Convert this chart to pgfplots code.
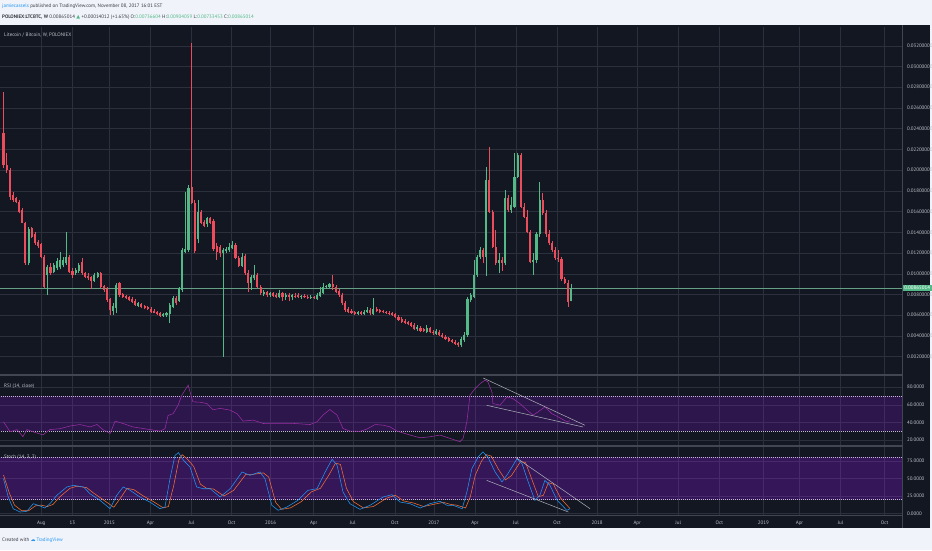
\documentclass[border=0pt]{standalone}
\usepackage{fontspec}
\setmainfont{PT Sans}
\newfontfamily\symfont{DejaVu Sans}
\usepackage{pgfplots}
\usepackage{pgfplotstable}
\pgfplotsset{compat=1.18}
\definecolor{bg}{RGB}{19,23,34}
\definecolor{hdr}{RGB}{240,243,250}
\definecolor{gridc}{RGB}{44,48,60}
\definecolor{sepc}{RGB}{66,70,82}
\definecolor{labc}{RGB}{190,193,200}
\definecolor{dashc}{RGB}{196,186,214}
\definecolor{tvgreen}{RGB}{83,185,135}
\definecolor{tvred}{RGB}{235,77,92}
\definecolor{tvblue}{RGB}{33,150,243}
\definecolor{tvorange}{RGB}{245,110,50}
\definecolor{rsic}{RGB}{155,45,165}
\definecolor{band}{RGB}{153,21,255}
\definecolor{hdrtext}{RGB}{55,58,66}
\definecolor{trendc}{RGB}{175,178,188}

\pgfplotstableread{
w o h l c
0 0.02355 0.02757 0.02017 0.02049
1 0.02049 0.02162 0.01969 0.02001
2 0.02001 0.02017 0.01712 0.01744
3 0.01760 0.01792 0.01695 0.01712
4 0.01728 0.01744 0.01679 0.01695
5 0.01695 0.01712 0.01583 0.01599
6 0.01615 0.01631 0.01486 0.01493
7 0.01493 0.01503 0.01084 0.01100
9 0.01438 0.01454 0.01342 0.01358
10 0.01384 0.01406 0.01277 0.01293
11 0.01309 0.01326 0.01245 0.01268
12 0.01284 0.01293 0.01149 0.01165
13 0.01165 0.01181 0.00859 0.00875
15 0.01068 0.01100 0.00988 0.01004
21 0.01165 0.01181 0.01010 0.01020
22 0.01030 0.01052 0.00956 0.00988
25 0.01117 0.01149 0.00988 0.01004
26 0.01004 0.01020 0.00956 0.00972
27 0.00978 0.01004 0.00939 0.00956
28 0.00965 0.00978 0.00850 0.00933
31 0.01004 0.01020 0.00859 0.00875
32 0.00882 0.00891 0.00827 0.00843
33 0.00850 0.00869 0.00731 0.00747
34 0.00753 0.00763 0.00602 0.00650
37 0.00908 0.00923 0.00779 0.00795
38 0.00805 0.00817 0.00770 0.00779
39 0.00786 0.00795 0.00753 0.00763
40 0.00773 0.00786 0.00737 0.00747
41 0.00759 0.00773 0.00721 0.00731
42 0.00740 0.00753 0.00689 0.00698
44 0.00708 0.00721 0.00666 0.00676
45 0.00689 0.00698 0.00657 0.00666
46 0.00676 0.00689 0.00650 0.00657
47 0.00663 0.00676 0.00624 0.00634
48 0.00644 0.00657 0.00618 0.00624
49 0.00631 0.00644 0.00602 0.00612
50 0.00618 0.00631 0.00586 0.00596
55 0.00763 0.00786 0.00698 0.00715
60 0.01840 0.03223 0.01673 0.01686
61 0.01686 0.01712 0.01203 0.01223
63 0.01599 0.01615 0.01480 0.01493
64 0.01503 0.01519 0.01448 0.01461
66 0.01535 0.01551 0.01480 0.01493
67 0.01512 0.01525 0.01223 0.01235
68 0.01268 0.01293 0.01133 0.01213
69 0.01261 0.01277 0.01165 0.01203
74 0.01277 0.01293 0.01139 0.01149
75 0.01155 0.01171 0.01062 0.01075
77 0.01171 0.01191 0.00988 0.01004
78 0.01010 0.01036 0.00827 0.00908
81 0.00988 0.01010 0.00859 0.00875
82 0.00875 0.00891 0.00795 0.00811
84 0.00824 0.00837 0.00779 0.00795
86 0.00811 0.00824 0.00773 0.00789
87 0.00795 0.00811 0.00763 0.00779
89 0.00811 0.00824 0.00740 0.00779
91 0.00795 0.00811 0.00740 0.00779
93 0.00789 0.00811 0.00770 0.00779
94 0.00792 0.00811 0.00763 0.00776
96 0.00789 0.00801 0.00763 0.00773
97 0.00779 0.00795 0.00759 0.00770
99 0.00779 0.00789 0.00753 0.00763
105 0.00898 0.00988 0.00843 0.00869
106 0.00869 0.00891 0.00811 0.00827
107 0.00834 0.00850 0.00779 0.00795
108 0.00795 0.00811 0.00698 0.00715
109 0.00721 0.00740 0.00634 0.00650
110 0.00657 0.00676 0.00618 0.00634
111 0.00641 0.00657 0.00612 0.00624
112 0.00631 0.00644 0.00602 0.00615
114 0.00628 0.00641 0.00599 0.00612
117 0.00650 0.00666 0.00599 0.00618
119 0.00657 0.00676 0.00634 0.00644
120 0.00647 0.00660 0.00624 0.00634
121 0.00641 0.00650 0.00618 0.00628
122 0.00634 0.00644 0.00612 0.00621
123 0.00624 0.00637 0.00602 0.00612
124 0.00618 0.00631 0.00592 0.00602
125 0.00608 0.00624 0.00570 0.00579
126 0.00586 0.00602 0.00547 0.00557
127 0.00567 0.00579 0.00528 0.00538
128 0.00547 0.00560 0.00515 0.00528
129 0.00535 0.00547 0.00505 0.00515
130 0.00522 0.00535 0.00483 0.00496
131 0.00505 0.00522 0.00457 0.00470
133 0.00480 0.00496 0.00438 0.00448
134 0.00464 0.00480 0.00441 0.00451
136 0.00473 0.00489 0.00425 0.00435
137 0.00441 0.00457 0.00412 0.00425
139 0.00441 0.00457 0.00399 0.00409
140 0.00409 0.00425 0.00377 0.00387
141 0.00393 0.00409 0.00361 0.00370
142 0.00377 0.00393 0.00345 0.00354
143 0.00361 0.00374 0.00329 0.00342
144 0.00345 0.00361 0.00316 0.00325
145 0.00329 0.00342 0.00297 0.00316
153 0.01229 0.01245 0.01100 0.01165
155 0.01905 0.02226 0.01589 0.01599
156 0.01599 0.01615 0.01245 0.01261
157 0.01261 0.01422 0.01084 0.01107
159 0.01133 0.01165 0.01030 0.01107
161 0.01728 0.01760 0.01599 0.01615
165 0.02146 0.02162 0.01631 0.01647
166 0.01647 0.01679 0.01535 0.01551
167 0.01551 0.01615 0.01390 0.01406
168 0.01406 0.01422 0.01100 0.01117
172 0.01712 0.01776 0.01567 0.01589
173 0.01589 0.01615 0.01358 0.01384
174 0.01384 0.01422 0.01277 0.01293
175 0.01293 0.01319 0.01213 0.01229
176 0.01229 0.01261 0.01133 0.01149
177 0.01155 0.01229 0.01117 0.01139
178 0.01139 0.01165 0.00933 0.00946
179 0.00946 0.00972 0.00901 0.00914
180 0.00914 0.00939 0.00682 0.00731
}\bear

\pgfplotstableread{
w o h l c
8 0.01100 0.01454 0.01084 0.01429
14 0.00988 0.01084 0.00795 0.01068
16 0.01020 0.01100 0.01004 0.01084
17 0.01052 0.01149 0.01036 0.01126
18 0.01062 0.01213 0.01043 0.01133
19 0.01084 0.01165 0.01062 0.01133
20 0.01100 0.01403 0.01084 0.01165
23 0.01004 0.01052 0.00988 0.01036
24 0.01030 0.01100 0.01010 0.01084
29 0.00933 0.01004 0.00923 0.00988
30 0.00965 0.01020 0.00956 0.01004
35 0.00644 0.00715 0.00602 0.00689
36 0.00666 0.00908 0.00618 0.00891
43 0.00692 0.00731 0.00682 0.00715
51 0.00596 0.00624 0.00586 0.00615
52 0.00599 0.00631 0.00579 0.00621
53 0.00612 0.00715 0.00528 0.00698
54 0.00682 0.00786 0.00666 0.00763
56 0.00740 0.00875 0.00731 0.00859
57 0.00843 0.01245 0.00827 0.01229
58 0.01213 0.01792 0.01197 0.01235
59 0.01229 0.01856 0.01213 0.01824
62 0.01332 0.01712 0.01293 0.01599
65 0.01480 0.01551 0.01454 0.01535
70 0.01203 0.01245 0.00200 0.01229
71 0.01223 0.01261 0.01203 0.01239
72 0.01229 0.01293 0.01213 0.01261
73 0.01245 0.01319 0.01235 0.01277
76 0.01075 0.01197 0.01062 0.01165
79 0.00914 0.00988 0.00843 0.00965
80 0.00956 0.01084 0.00939 0.00988
83 0.00805 0.00843 0.00786 0.00827
85 0.00792 0.00827 0.00779 0.00811
88 0.00779 0.00843 0.00763 0.00811
90 0.00779 0.00811 0.00747 0.00795
92 0.00773 0.00805 0.00747 0.00792
95 0.00773 0.00795 0.00759 0.00789
98 0.00770 0.00792 0.00759 0.00779
100 0.00759 0.00811 0.00747 0.00795
101 0.00789 0.00869 0.00779 0.00827
102 0.00817 0.00908 0.00805 0.00875
103 0.00869 0.00891 0.00850 0.00882
104 0.00875 0.00908 0.00859 0.00898
113 0.00615 0.00644 0.00602 0.00631
115 0.00612 0.00650 0.00602 0.00634
116 0.00628 0.00682 0.00618 0.00650
118 0.00615 0.00763 0.00602 0.00657
132 0.00464 0.00505 0.00451 0.00483
135 0.00441 0.00502 0.00432 0.00480
138 0.00419 0.00464 0.00409 0.00448
146 0.00316 0.00387 0.00297 0.00367
147 0.00361 0.00441 0.00345 0.00409
148 0.00409 0.00779 0.00393 0.00753
149 0.00747 0.00811 0.00731 0.00795
150 0.00779 0.01133 0.00763 0.00988
151 0.00988 0.01181 0.00972 0.01165
152 0.01158 0.01261 0.01139 0.01229
154 0.01165 0.02033 0.00978 0.01905
158 0.01100 0.01197 0.01004 0.01133
160 0.01107 0.01808 0.01084 0.01728
162 0.01615 0.01744 0.01589 0.01663
163 0.01647 0.02162 0.01631 0.01937
164 0.01937 0.02168 0.01921 0.02146
169 0.01117 0.01197 0.00988 0.01133
170 0.01133 0.01406 0.01100 0.01384
171 0.01384 0.01888 0.01358 0.01712
181 0.00736604 0.00904059 0.00733453 0.00865014
}\bull

\pgfplotstableread{
w v
0 40.8
2.1 29.5
4.3 32
6.2 24
7.5 32
9.4 29.5
12.6 26
14.8 32
18.0 33
21.2 36
24.4 37.7
27.6 35
29.8 37.7
31.7 32
34.0 27.6
35.6 41.6
38.1 38.9
41.3 35
45.8 32.5
49.9 30.3
51.5 33
52.5 48
54.1 50
55.7 59.7
56.9 71
58.9 82.3
60.4 63.4
62.7 63
64.9 61.5
66.8 54.4
69.1 56
72.3 54
74.5 50
76.4 41.6
79.6 42.7
82.8 38.9
87.2 39
92.3 39
97.8 37.7
100.0 40.8
101.9 48.4
104.1 54.7
106.4 48.4
108.3 33.2
110.5 30.3
113.7 30
115.9 32.5
118.5 37.7
121.1 37
123.3 35
125.5 30.3
129.7 25.8
132.9 22.7
136.0 23.8
139.2 25.8
142.4 22
145.6 18.2
146.6 22
147.8 40.8
148.8 71
150.4 78.4
152.0 84
153.6 88
154.5 86
155.8 74.7
156.1 61.5
158.4 59.7
160.6 69
162.5 67
164.7 61.5
167.0 54
168.9 48.4
170.5 52
172.7 57.7
174.9 50
176.9 46.4
179.7 40.8
180.7 42
}\rsi

\pgfplotstableread{
w v
0 49.7
1.5 23.6
3.1 6.9
5.3 2.1
7.4 3.1
9.5 14
11.1 11.7
13.2 7.9
14.8 14
17.0 26
20.2 37.9
22.3 40.2
25.5 37.9
27.6 28.3
30.8 18.8
34.0 6.9
36.1 26
38.2 37.9
40.4 33.1
43.5 23.6
46.7 16.4
49.9 6.9
51.5 9.3
53.1 49.7
54.7 83
55.8 87
57.4 76
59.5 66.4
61.6 37.9
63.7 35.4
65.9 35.4
69.1 23.6
72.3 35.4
76.1 59.3
78.6 54.6
81.8 59.3
83.4 49.7
85.6 11.7
87.6 4.6
90.4 9.3
93.9 18.8
97.1 33.1
100.0 35.4
102.6 59.3
104.8 77.4
106.4 68.9
108.3 30.7
110.5 14
113.7 6
116.9 11.7
121.1 23.6
123.9 26.9
126.5 16.4
129.7 14
132.9 7.9
136.0 14
139.2 17.5
141.5 11.7
143.4 11.7
146.3 6.9
147.8 30.7
149.4 64
151.4 80.7
152.9 87.9
154.5 80.7
156.8 59.3
159.0 45
160.9 56.9
163.8 78.3
165.4 71.1
167.0 49.7
169.5 18.8
171.1 26
172.7 47.4
174.3 40.3
176.6 18.8
179.7 4.6
180.7 6.9
}\stk

\pgfplotstableread{
w v
0 55
1.8 30
3.5 12
5.8 4
8 4
10.2 11
12 12
14 10
15.8 13
18 24
21.2 36
23.4 39
26.5 37
28.8 29
32 19
35.2 9
37.3 22
39.4 36
41.6 34
44.6 25
47.8 17
51 8
52.6 10
54.3 40
55.9 76
57 84
58.6 78
60.7 67
62.8 42
64.8 36
67 35
70.3 25
73.4 33
77.3 56
79.7 56
82.9 58
84.6 52
86.8 16
88.7 6
91.5 8
95 17
98.2 31
101.1 36
103.8 55
105.9 72
107.5 70
109.4 36
111.6 17
114.8 8
118 10
122.2 22
125 26
127.6 18
130.8 15
134 10
137.1 13
140.3 16
142.6 13
144.5 12
147.4 8
148.9 24
150.5 55
152.5 75
154 84
155.6 82
157.9 63
160.1 48
162 54
164.9 74
166.5 73
168.1 54
170.6 24
172.2 26
173.8 44
175.4 42
177.7 22
180.7 7
}\std

\pgfplotsset{
  tvpane/.style={
    scale only axis, width=902pt,
    xmin=-1.116, xmax=286.6,
    axis line style={draw=none},
    major tick length=0pt,
    xtick={12.05,21.95,33.77,46.87,59.97,72.75,85.21,98.95,111.41,124.82,137.28,150.38,163.48,176.58,189.36,202.14,215.24,228.34,242.40,253.9,267.0,281.05},
    xmajorgrids, ymajorgrids,
    grid style={draw=gridc, line width=0.45pt},
    tick label style={font=\fontsize{5}{6}\selectfont, text=labc},
    yticklabel pos=right,
    yticklabel style={anchor=west, xshift=1.5pt},
    scaled y ticks=false,
    clip=true,
  },
  wick/.style={draw=none, mark=none, forget plot,
    error bars/.cd, y dir=plus, y explicit, error mark=none,
    error bar style={draw=#1, line width=0.5pt, solid}},
  body/.style={draw=none, mark=none, forget plot,
    error bars/.cd, y dir=plus, y explicit, error mark=none,
    error bar style={draw=#1, line width=2.1pt, solid}},
  bandline/.style={draw=dashc, line width=0.5pt, dash pattern=on 1pt off 1pt, forget plot},
}

\begin{document}
\begin{tikzpicture}
\path[use as bounding box] (0pt,0pt) rectangle (932pt,550pt);
\fill[hdr] (0pt,0pt) rectangle (932pt,550pt);
\fill[bg] (0pt,22pt) rectangle (930pt,525pt);

% main price pane
\begin{axis}[tvpane, name=main, at={(0pt,175pt)}, anchor=south west, height=348pt,
  ymin=0.000234, ymax=0.03381,
  ytick={0.002,0.004,0.006,0.008,0.010,0.012,0.014,0.016,0.018,0.020,0.022,0.024,0.026,0.028,0.030,0.032},
  xticklabel=\empty,
  yticklabel style={/pgf/number format/.cd, fixed, fixed zerofill, precision=8, assume math mode=true}]
\addplot[draw=tvgreen!55!gray, line width=0.5pt, forget plot] coordinates {(-2,0.00865014) (290,0.00865014)};
\addplot[wick=tvred] table[x=w, y=l, y error plus expr=\thisrow{h}-\thisrow{l}] {\bear};
\addplot[wick=tvgreen] table[x=w, y=l, y error plus expr=\thisrow{h}-\thisrow{l}] {\bull};
\addplot[body=tvred] table[x=w, y=c, y error plus expr=\thisrow{o}-\thisrow{c}] {\bear};
\addplot[body=tvgreen] table[x=w, y=o, y error plus expr=\thisrow{c}-\thisrow{o}] {\bull};
\end{axis}

% RSI pane
\begin{axis}[tvpane, name=rsipane, at={(main.south west)}, anchor=north west, height=71pt,
  ymin=13.4, ymax=93.8, ytick={20,40,60,80}, xticklabel=\empty,
  yticklabel style={/pgf/number format/.cd, fixed, fixed zerofill, precision=4, assume math mode=true}]
\fill[band, fill opacity=0.19] (axis cs:-2,30) rectangle (axis cs:290,70);
\addplot[bandline] coordinates {(-2,70) (290,70)};
\addplot[bandline] coordinates {(-2,30) (290,30)};
\addplot[draw=rsic, line width=0.55pt, mark=none] table[x=w, y=v] {\rsi};
\addplot[draw=trendc, line width=0.5pt, mark=none] coordinates {(153.0,90.4) (185.5,36.8)};
\addplot[draw=trendc, line width=0.5pt, mark=none] coordinates {(154.1,59.5) (184.9,34.9)};
\end{axis}

% Stoch pane
\begin{axis}[tvpane, name=stochpane, at={(rsipane.south west)}, anchor=north west, height=69pt,
  ymin=-2.1, ymax=96.4, ytick={0,25,50,75},
  xticklabels={Aug,13,2015,Apr,Jul,Oct,2016,Apr,Jul,Oct,2017,Apr,Jul,Oct,2018,Apr,Jul,Oct,2019,Apr,Jul,Oct},
  xticklabel style={anchor=north, yshift=-2.5pt},
  yticklabel style={/pgf/number format/.cd, fixed, fixed zerofill, precision=4, assume math mode=true}]
\fill[band, fill opacity=0.25] (axis cs:-2,20) rectangle (axis cs:290,80);
\addplot[bandline] coordinates {(-2,80) (290,80)};
\addplot[bandline] coordinates {(-2,20) (290,20)};
\addplot[draw=tvorange, line width=0.55pt, mark=none] table[x=w, y=v] {\std};
\addplot[draw=tvblue, line width=0.55pt, mark=none] table[x=w, y=v] {\stk};
\addplot[draw=trendc, line width=0.5pt, mark=none] coordinates {(163.2,80.7) (187.1,6.9)};
\addplot[draw=trendc, line width=0.5pt, mark=none] coordinates {(154.1,47.4) (180.2,2.1)};
\end{axis}

% pane separators and scale border
\draw[sepc, line width=1.1pt] (main.south west) -- (main.south east);
\draw[sepc, line width=1.1pt] (rsipane.south west) -- (rsipane.south east);
\draw[sepc, line width=0.8pt] (stochpane.south west) -- (stochpane.south east);
\draw[sepc, line width=0.8pt] (902pt,22pt) -- (902pt,525pt);

% current price label
\node[fill=tvgreen, text=white, inner sep=1pt, minimum width=29pt, anchor=west,
  font=\fontsize{5}{6}\selectfont] at (902.5pt,262.2pt) {0.00865014};

% pane titles
\node[anchor=west, text=labc, font=\fontsize{5}{6}\selectfont, inner sep=0pt] at (4pt,515pt) {Litecoin / Bitcoin, W, POLONIEX};
\node[anchor=north west, text=labc, font=\fontsize{5}{6}\selectfont, inner sep=0pt] at ([xshift=4pt,yshift=-9pt]main.south west) {RSI (14, close)};
\node[anchor=north west, text=labc, font=\fontsize{5}{6}\selectfont, inner sep=0pt] at ([xshift=4pt,yshift=-9pt]rsipane.south west) {Stoch (14, 3, 3)};

% header
\node[anchor=west, inner sep=0pt, font=\fontsize{5}{6}\selectfont, text=hdrtext] at (2pt,544pt)
  {\textcolor{tvblue}{jamiecassels} published on TradingView.com, November 08, 2017 16:01 EST};
\node[anchor=west, inner sep=0pt, font=\fontsize{5}{6}\selectfont, text=hdrtext] at (2pt,533pt)
  {\textbf{POLONIEX:LTCBTC, W} 0.00865014 \textcolor{tvgreen}{\symfont ▲} +0.00014012 (+1.65\%) O:\textcolor{tvgreen}{0.00736604} H:\textcolor{tvgreen}{0.00904059} L:\textcolor{tvgreen}{0.00733453} C:\textcolor{tvgreen}{0.00865014}};

% footer
\node[anchor=west, inner sep=0pt, font=\fontsize{5}{6}\selectfont, text=hdrtext] at (2pt,10pt)
  {Created with \textcolor{tvblue}{\symfont ☁}\,\textcolor{tvblue}{TradingView}};
\end{tikzpicture}
\end{document}
